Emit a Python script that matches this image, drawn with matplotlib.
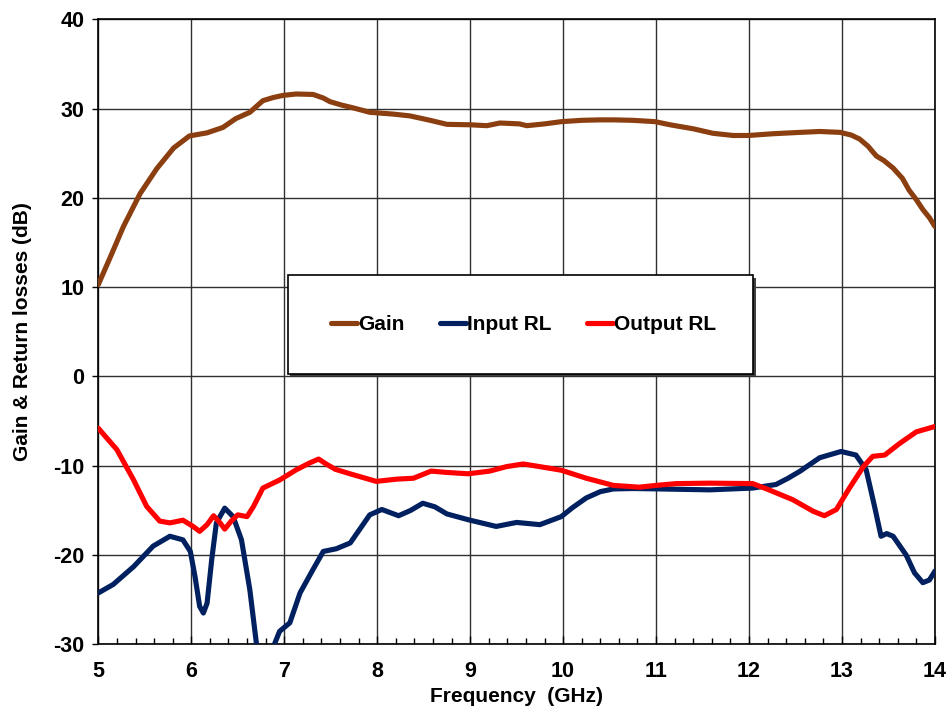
import matplotlib
matplotlib.use("Agg")
import matplotlib.pyplot as plt
from matplotlib.patches import Rectangle
from matplotlib.ticker import MultipleLocator

plt.rcParams['font.family'] = ['Liberation Sans', 'DejaVu Sans']
plt.rcParams['font.weight'] = 'bold'
plt.rcParams['axes.unicode_minus'] = False

x_ticks = [5, 6, 7, 8, 9, 10, 11, 12, 13, 14]
y_ticks = [-30, -20, -10, 0, 10, 20, 30, 40]

gain_f = [5.0, 5.13, 5.27, 5.45, 5.63, 5.81, 5.98, 6.17, 6.34, 6.48, 6.63, 6.77, 6.88, 6.99, 7.13, 7.31,
          7.42, 7.49, 7.62, 7.74, 7.92, 8.17, 8.35, 8.57, 8.75, 9.0, 9.18, 9.32, 9.53, 9.61, 9.8, 9.98,
          10.2, 10.39, 10.55, 10.75, 10.99, 11.15, 11.4, 11.61, 11.83, 11.99, 12.26, 12.55, 12.76, 12.98,
          13.1, 13.19, 13.28, 13.37, 13.45, 13.55, 13.65, 13.72, 13.8, 13.87, 13.94, 14.0]
gain_v = [10.3, 13.4, 16.8, 20.5, 23.3, 25.6, 26.95, 27.3, 27.9, 28.9, 29.6, 30.9, 31.25, 31.5, 31.65, 31.6,
          31.2, 30.8, 30.4, 30.1, 29.6, 29.4, 29.2, 28.7, 28.25, 28.2, 28.1, 28.4, 28.3, 28.1, 28.3, 28.55,
          28.7, 28.75, 28.75, 28.7, 28.55, 28.2, 27.75, 27.25, 27.0, 27.0, 27.2, 27.35, 27.45, 27.35,
          27.05, 26.6, 25.8, 24.7, 24.2, 23.35, 22.2, 20.9, 19.8, 18.7, 17.8, 16.8]

in_f = [5.0, 5.16, 5.38, 5.59, 5.77, 5.91, 5.99, 6.04, 6.09, 6.13, 6.17, 6.22, 6.27, 6.36, 6.45, 6.54,
        6.63, 6.70, 6.76, 6.82, 6.9, 6.95, 7.06, 7.17, 7.3, 7.42, 7.56, 7.71, 7.82, 7.92, 8.05, 8.23,
        8.36, 8.49, 8.62, 8.75, 8.98, 9.28, 9.5, 9.75, 9.98, 10.1, 10.25, 10.4, 10.54, 10.75, 11.04,
        11.58, 12.04, 12.29, 12.42, 12.55, 12.76, 12.99, 13.15, 13.26, 13.35, 13.42, 13.48, 13.55, 13.69,
        13.78, 13.87, 13.94, 14.0]
in_v = [-24.25, -23.3, -21.3, -19.0, -17.9, -18.3, -19.6, -22.4, -25.75, -26.5, -25.4, -20.5, -16.4,
        -14.75, -15.7, -18.3, -23.9, -29.85, -33.0, -33.0, -29.85, -28.55, -27.6, -24.25, -21.8, -19.6,
        -19.3, -18.65, -17.0, -15.5, -14.9, -15.6, -15.0, -14.2, -14.6, -15.4, -16.05, -16.8, -16.35,
        -16.6, -15.7, -14.7, -13.6, -12.9, -12.6, -12.55, -12.6, -12.7, -12.5, -12.1, -11.4, -10.6, -9.1,
        -8.4, -8.8, -10.45, -14.55, -17.9, -17.6, -17.9, -20.0, -22.0, -23.1, -22.8, -21.8]

out_f = [5.0, 5.2, 5.38, 5.52, 5.66, 5.77, 5.91, 6.02, 6.09, 6.17, 6.24, 6.31, 6.36, 6.43, 6.5, 6.6,
         6.67, 6.77, 6.95, 7.13, 7.27, 7.37, 7.45, 7.55, 7.74, 7.99, 8.21, 8.39, 8.58, 8.75, 8.98, 9.21,
         9.39, 9.57, 9.75, 9.98, 10.25, 10.54, 10.82, 11.0, 11.22, 11.58, 12.04, 12.19, 12.33, 12.47,
         12.69, 12.81, 12.94, 13.08, 13.23, 13.33, 13.46, 13.62, 13.8, 14.0]
out_v = [-5.8, -8.2, -11.6, -14.55, -16.2, -16.4, -16.1, -16.8, -17.35, -16.6, -15.6, -16.4, -17.1, -16.2,
         -15.5, -15.7, -14.55, -12.5, -11.6, -10.45, -9.7, -9.25, -9.8, -10.4, -11.0, -11.75, -11.5,
         -11.4, -10.6, -10.75, -10.9, -10.6, -10.1, -9.8, -10.1, -10.5, -11.4, -12.2, -12.4, -12.2, -12.0,
         -11.95, -12.0, -12.6, -13.2, -13.8, -15.1, -15.6, -14.9, -12.5, -10.1, -8.95, -8.8, -7.5, -6.2,
         -5.6]

series_names = ["Gain", "Input RL", "Output RL"]
colors = ["#8B3E0F", "#002060", "#FF0000"]

fig = plt.figure(figsize=(9.49, 7.13), dpi=100)
ax = fig.add_axes([0.1036, 0.0964, 0.8816, 0.8763])

lw = 3.7
kw = dict(lw=lw, solid_joinstyle='round', solid_capstyle='round', zorder=5)
l1, = ax.plot(gain_f, gain_v, color=colors[0], label=series_names[0], **kw)
l2, = ax.plot(in_f, in_v, color=colors[1], label=series_names[1], **kw)
l3, = ax.plot(out_f, out_v, color=colors[2], label=series_names[2], **kw)

ax.set_xlim(5, 14)
ax.set_ylim(-30, 40)
ax.set_xticks(x_ticks)
ax.set_xticklabels([str(v) for v in x_ticks], fontsize=15.5, fontweight='bold')
ax.set_yticks(y_ticks)
ax.set_yticklabels([str(v) for v in y_ticks], fontsize=15.5, fontweight='bold')
ax.xaxis.set_minor_locator(MultipleLocator(0.2))
ax.grid(True, which='major', color='#303030', lw=1.0)
ax.set_axisbelow(True)
ax.tick_params(axis='x', which='major', direction='in', length=6, width=1, pad=12)
ax.tick_params(axis='x', which='minor', direction='in', length=4, width=1)
ax.tick_params(axis='y', which='major', direction='out', length=4, width=1, pad=6)
for s in ax.spines.values():
    s.set_linewidth(1.2)
    s.set_color('black')

ax.set_xlabel("Frequency  (GHz)", fontsize=15, fontweight='bold', labelpad=4)
ax.set_ylabel("Gain & Return losses (dB)", fontsize=15, fontweight='bold', labelpad=15)

# legend box with shadow
x0, y0, w, h = 0.2264, 0.433, 0.5565, 0.158
ax.add_patch(Rectangle((x0 + 0.003, y0 - 0.004), w, h, transform=ax.transAxes,
                       facecolor='#404040', edgecolor='none', zorder=6))
ax.add_patch(Rectangle((x0, y0), w, h, transform=ax.transAxes,
                       facecolor='white', edgecolor='black', lw=1.2, zorder=7))
leg = ax.legend(handles=[l1, l2, l3], loc='center', bbox_to_anchor=(x0 + w / 2 + 0.004, y0 + h / 2),
                bbox_transform=ax.transAxes, ncol=3, frameon=False,
                handlelength=1.25, handletextpad=0.05, columnspacing=1.7,
                prop={'weight': 'bold', 'size': 15})
leg.set_zorder(8)

fig.savefig("out.png", dpi=100)
